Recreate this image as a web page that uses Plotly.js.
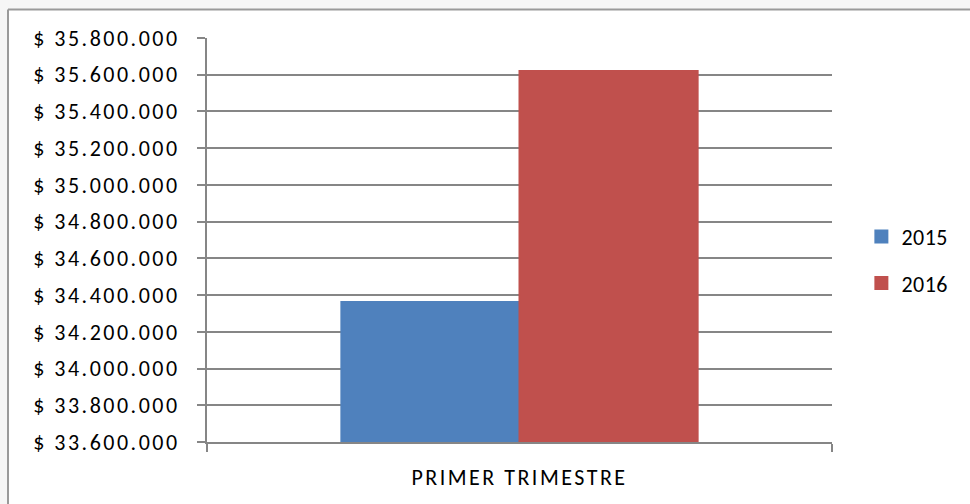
<!DOCTYPE html>
<html>
<head>
<meta charset="utf-8">
<script src="https://cdn.plot.ly/plotly-3.0.1.min.js"></script>
<style>
html,body{margin:0;padding:0;background:#fff;}
#chart{width:970px;height:504px;}
#chart .ytick text{letter-spacing:2.5px;}
#chart .xtick text{letter-spacing:2.5px;}
#chart .legendtext{letter-spacing:0.5px;}
</style>
</head>
<body>
<div id="chart"></div>
<script>
var categories = ["PRIMER TRIMESTRE"];
var series2015 = [34362000];
var series2016 = [35620000];
var seriesNames = ["2015", "2016"];
var yTicks = [33600000, 33800000, 34000000, 34200000, 34400000, 34600000, 34800000, 35000000, 35200000, 35400000, 35600000, 35800000];

function fmt(v) {
  return "$ " + String(v).replace(/\B(?=(\d{3})+(?!\d))/g, ".");
}
var yTickText = yTicks.map(fmt);

var font = "Carlito, Lato, 'Open Sans', sans-serif";
var traces = [
  {type: "bar", name: seriesNames[0], legendgroup: "a", x: categories, y: series2015,
   marker: {color: "#4f81bd", line: {color: "#4f81bd", width: 2}}},
  {type: "bar", name: seriesNames[1], legendgroup: "b", x: categories, y: series2016,
   marker: {color: "#c0504d", line: {color: "#c0504d", width: 2}}}
];
var layout = {
  width: 970, height: 504,
  paper_bgcolor: "#ffffff", plot_bgcolor: "#ffffff",
  margin: {l: 207, r: 138, t: 38, b: 62, pad: 0},
  font: {family: font, size: 22, color: "#000"},
  barmode: "group", bargap: 0.43, bargroupgap: 0,
  showlegend: true,
  legend: {x: 1.047, xanchor: "left", y: 0.45, yanchor: "middle", font: {size: 22}, itemwidth: 30,
           tracegroupgap: 15, bgcolor: "rgba(0,0,0,0)"},
  xaxis: {
    type: "category", showline: true, linecolor: "#868686", linewidth: 2,
    ticks: "outside", tickson: "boundaries", ticklen: 8, tickcolor: "#868686", tickwidth: 2,
    tickfont: {size: 22}, showgrid: false, ticklabelstandoff: 15
  },
  yaxis: {
    range: [33600000, 35800000], tickvals: yTicks, ticktext: yTickText,
    showline: true, linecolor: "#868686", linewidth: 2,
    ticks: "outside", ticklen: 8, tickcolor: "#868686", tickwidth: 2,
    showgrid: true, gridcolor: "#868686", gridwidth: 2, zeroline: false,
    tickfont: {size: 22}, ticklabelstandoff: 13
  },
  shapes: [
    {type: "rect", xref: "paper", yref: "paper", x0: (0 - 207) / 625, x1: (7 - 207) / 625, y0: -62/404, y1: 1 + 38/404, fillcolor: "#f6f6f6", line: {width: 0}, layer: "below"},
    {type: "rect", xref: "paper", yref: "paper", x0: (0 - 207) / 625, x1: (970 - 207) / 625, y0: 1 + 28/404, y1: 1 + 38/404, fillcolor: "#f6f6f6", line: {width: 0}, layer: "below"},
    {type: "line", xref: "paper", yref: "paper", x0: (8 - 207) / 625, x1: (970 - 207) / 625, y0: 1 + 28.5/404, y1: 1 + 28.5/404, line: {color: "#9a9a9a", width: 2}},
    {type: "line", xref: "paper", yref: "paper", x0: (8 - 207) / 625, x1: (8 - 207) / 625, y0: 1 + 28.5/404, y1: -62/404, line: {color: "#9a9a9a", width: 2}}
  ]
};
Plotly.newPlot("chart", traces, layout, {displayModeBar: false, staticPlot: true});
</script>
</body>
</html>
